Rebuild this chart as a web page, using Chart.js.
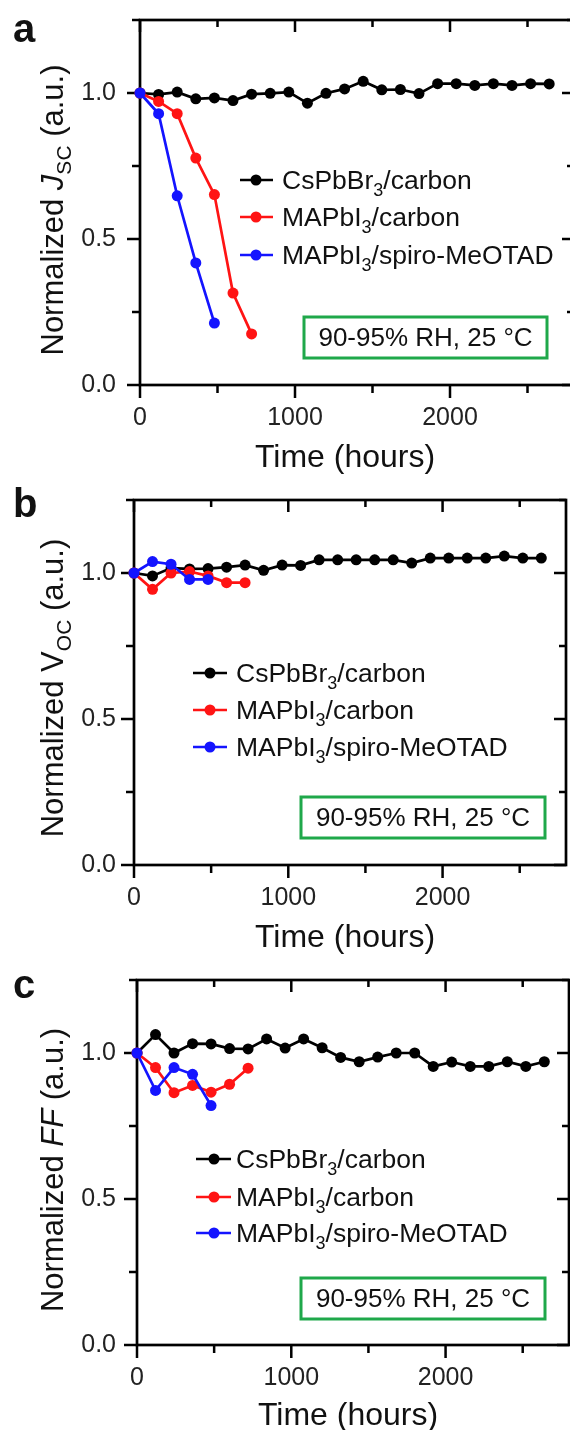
<!DOCTYPE html>
<html><head><meta charset="utf-8">
<script src="https://cdn.jsdelivr.net/npm/chart.js@4.4.1/dist/chart.umd.min.js"></script>
<style>
html,body{margin:0;padding:0;background:#fff;overflow:hidden;width:570px;height:1430px;position:relative;}
.panel{position:absolute;left:0;width:580px;height:480px;}
</style></head><body>
<div class="panel" style="top:0"><canvas id="ca" width="580" height="480"></canvas></div>
<div class="panel" style="top:480px"><canvas id="cb" width="580" height="480"></canvas></div>
<div class="panel" style="top:960px"><canvas id="cc" width="580" height="480"></canvas></div>
<script>
// ---------- DATA ----------
const hoursCs  = [0,120,240,360,480,600,720,840,960,1080,1200,1320,1440,1560,1680,1800,1920,2040,2160,2280,2400,2520,2640];
const hoursMAc = [0,120,240,360,480,600,720];
const hoursMAs = [0,120,240,360,480];

const jscCs  = [1.0,0.995,1.003,0.98,0.983,0.974,0.996,0.999,1.003,0.965,0.999,1.014,1.04,1.011,1.012,0.998,1.032,1.032,1.026,1.032,1.026,1.032,1.031];
const jscMAc = [1.0,0.971,0.929,0.777,0.652,0.315,0.175];
const jscMAs = [1.0,0.929,0.648,0.418,0.212];

const vocCs  = [1.0,0.99,1.017,1.014,1.015,1.02,1.027,1.009,1.027,1.026,1.045,1.045,1.045,1.045,1.045,1.034,1.051,1.051,1.051,1.051,1.058,1.051,1.051];
const vocMAc = [1.0,0.944,1.0,1.005,0.99,0.967,0.967];
const vocMAs = [1.0,1.039,1.03,0.978,0.978];

const ffCs  = [1.0,1.063,1.0,1.032,1.031,1.015,1.014,1.048,1.017,1.048,1.018,0.985,0.97,0.986,1.0,1.0,0.954,0.969,0.954,0.954,0.97,0.954,0.97];
const ffMAc = [1.0,0.95,0.864,0.889,0.866,0.893,0.948];
const ffMAs = [1.0,0.872,0.95,0.927,0.82];

const xTickMajor = [0,1000,2000];
const xTickMinor = [500,1500,2500];
const yTickMajor = [0,0.5,1.0];
const yTickMinor = [0.25,0.75,1.25];

const seriesNames = [
  [{t:'CsPbBr'},{t:'3',sub:true},{t:'/carbon'}],
  [{t:'MAPbI'},{t:'3',sub:true},{t:'/carbon'}],
  [{t:'MAPbI'},{t:'3',sub:true},{t:'/spiro-MeOTAD'}]
];
const boxText = '90-95% RH, 25 \u00B0C';
const xTitle = 'Time (hours)';
const yTitles = [
  [{t:'Normalized '},{t:'J',i:true},{t:'SC',sub:true},{t:' (a.u.)'}],
  [{t:'Normalized '},{t:'V'},{t:'OC',sub:true},{t:' (a.u.)'}],
  [{t:'Normalized '},{t:'FF',i:true},{t:' (a.u.)'}]
];
const letters = ['a','b','c'];

// ---------- STYLE / LAYOUT ----------
const FONT = '"Liberation Sans", Arial, Helvetica, sans-serif';
const COLORS = ['#000000','#ff1414','#1414ff'];
const GREEN = '#1fa84a';
const CW = 580;

const layouts = [
  {left:140, right:574, yPad:24, letterBase:42, lg:{x1:240,x2:273,xm:256,xt:282,rows:[180,217,255]}, box:{x:304,y:317,w:243,h:41}, xtX:345, xtB:467, ytB:63, ytC:210},
  {left:134, right:566, yPad:18, letterBase:37, lg:{x1:193,x2:227,xm:210,xt:236,rows:[193,230,267]}, box:{x:301,y:317,w:244,h:41}, xtX:345, xtB:467, ytB:63, ytC:208},
  {left:137, right:569, yPad:21, letterBase:38, lg:{x1:196,x2:231,xm:214,xt:236,rows:[199,237,273]}, box:{x:301,y:318,w:244,h:41}, xtX:348, xtB:465, ytB:63, ytC:210}
];

function partFont(p, base){
  const size = p.sub ? Math.round(base*0.68) : base;
  return (p.i?'italic ':'') + (p.b?'bold ':'') + size + 'px ' + FONT;
}
function measureRich(ctx, parts, base){
  let w = 0;
  for (const p of parts){ ctx.font = partFont(p, base); w += ctx.measureText(p.t).width; }
  return w;
}
function drawRich(ctx, parts, x, y, base){
  for (const p of parts){
    ctx.font = partFont(p, base);
    ctx.fillText(p.t, x, y + (p.sub ? base*0.27 : 0));
    x += ctx.measureText(p.t).width;
  }
}

function makeChart(idx, canvasId, hoursArr, valsArr){
  const L = layouts[idx];
  const datasets = valsArr.map((vals, k) => ({
    data: hoursArr[k].map((h, i) => ({x:h, y:vals[i]})),
    borderColor: COLORS[k], backgroundColor: COLORS[k],
    pointBackgroundColor: COLORS[k], pointBorderColor: COLORS[k],
    pointRadius: 5.5, pointBorderWidth: 0, borderWidth: 2.7,
    tension: 0, clip: false, order: 3 - k
  }));
  const framePlugin = {
    id: 'frame'+idx,
    beforeDatasetsDraw(chart){
      const {ctx, chartArea:{left,right,top,bottom}, scales:{x,y}} = chart;
      ctx.save();
      ctx.strokeStyle = '#000'; ctx.lineWidth = 2.7; ctx.lineCap = 'butt';
      ctx.strokeRect(left, top, right-left, bottom-top);
      ctx.lineWidth = 2.5;
      ctx.beginPath();
      for (const v of yTickMajor){ const py = y.getPixelForValue(v); ctx.moveTo(left-13,py); ctx.lineTo(left,py); ctx.moveTo(right,py); ctx.lineTo(right-12,py); }
      for (const v of yTickMinor){ const py = y.getPixelForValue(v); ctx.moveTo(left-8,py); ctx.lineTo(left,py); ctx.moveTo(right,py); ctx.lineTo(right-7,py); }
      for (const v of xTickMajor){ const px = x.getPixelForValue(v); ctx.moveTo(px,bottom); ctx.lineTo(px,bottom+13); ctx.moveTo(px,top); ctx.lineTo(px,top+12); }
      for (const v of xTickMinor){ const px = x.getPixelForValue(v); ctx.moveTo(px,bottom); ctx.lineTo(px,bottom+8); ctx.moveTo(px,top); ctx.lineTo(px,top+7); }
      ctx.stroke();
      ctx.restore();
    },
    afterDraw(chart){
      const ctx = chart.ctx;
      ctx.save();
      ctx.fillStyle = '#111';
      ctx.textAlign = 'left'; ctx.textBaseline = 'alphabetic';
      ctx.font = 'bold 40px ' + FONT;
      ctx.fillText(letters[idx], 13, L.letterBase);
      ctx.font = '32px ' + FONT;
      ctx.textAlign = 'center';
      ctx.fillText(xTitle, L.xtX, L.xtB);
      ctx.textAlign = 'left';
      const yw = measureRich(ctx, yTitles[idx], 31);
      ctx.save();
      ctx.translate(L.ytB, L.ytC);
      ctx.rotate(-Math.PI/2);
      drawRich(ctx, yTitles[idx], -yw/2, 0, 31);
      ctx.restore();
      const lg = L.lg;
      for (let k = 0; k < 3; k++){
        const ry = lg.rows[k];
        ctx.strokeStyle = COLORS[k]; ctx.lineWidth = 2.7;
        ctx.beginPath(); ctx.moveTo(lg.x1, ry); ctx.lineTo(lg.x2, ry); ctx.stroke();
        ctx.fillStyle = COLORS[k];
        ctx.beginPath(); ctx.arc(lg.xm, ry, 5.5, 0, Math.PI*2); ctx.fill();
        ctx.fillStyle = '#111';
        drawRich(ctx, seriesNames[k], lg.xt, ry + 9, 26.5);
      }
      const b = L.box;
      ctx.strokeStyle = GREEN; ctx.lineWidth = 3;
      ctx.strokeRect(b.x, b.y, b.w, b.h);
      ctx.fillStyle = '#111';
      ctx.font = '26px ' + FONT;
      ctx.textAlign = 'center'; ctx.textBaseline = 'middle';
      ctx.fillText(boxText, b.x + b.w/2, b.y + b.h/2 + 1);
      ctx.restore();
    }
  };
  return new Chart(document.getElementById(canvasId), {
    type: 'line',
    data: { datasets },
    options: {
      responsive: false, animation: false, devicePixelRatio: 1,
      layout: { padding: { left: 0, top: 20, right: CW - L.right, bottom: 0 } },
      plugins: { legend: { display: false }, tooltip: { enabled: false } },
      scales: {
        x: {
          type: 'linear', min: 0, max: 2800,
          afterBuildTicks: s => { s.ticks = xTickMajor.map(v => ({value: v})); },
          afterFit: s => { s.height = 95; s.paddingLeft = 0; s.paddingRight = 0; },
          grid: { display: false, drawTicks: false }, border: { display: false },
          ticks: { padding: 18, color: '#222', font: { family: FONT, size: 25 }, maxRotation: 0, autoSkip: false, callback: v => String(v) }
        },
        y: {
          type: 'linear', min: 0, max: 1.25,
          afterBuildTicks: s => { s.ticks = yTickMajor.map(v => ({value: v})); },
          afterFit: s => { s.width = L.left; s.paddingTop = 0; s.paddingBottom = 0; },
          grid: { display: false, drawTicks: false }, border: { display: false },
          ticks: { padding: L.yPad, color: '#222', font: { family: FONT, size: 25 }, autoSkip: false, callback: v => Number(v).toFixed(1) }
        }
      }
    },
    plugins: [framePlugin]
  });
}

const H = [hoursCs, hoursMAc, hoursMAs];
makeChart(0, 'ca', H, [jscCs, jscMAc, jscMAs]);
makeChart(1, 'cb', H, [vocCs, vocMAc, vocMAs]);
makeChart(2, 'cc', H, [ffCs, ffMAc, ffMAs]);
</script>
</body></html>
